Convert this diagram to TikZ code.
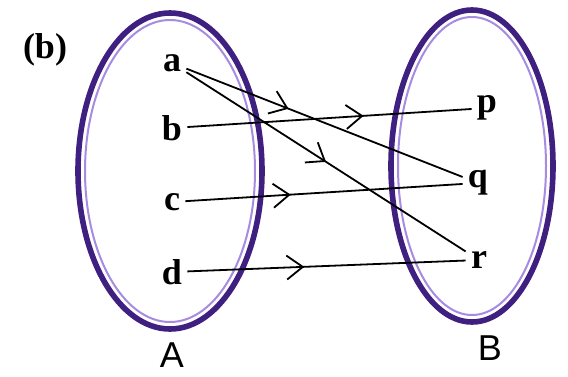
\documentclass[tikz,border=0pt]{standalone}
\usepackage{fontspec}
\setmainfont{Liberation Serif}
\newfontfamily\setfont{Liberation Sans}
\usetikzlibrary{arrows.meta,decorations.markings}
\definecolor{RingDark}{HTML}{3F1F80}
\definecolor{RingLight}{HTML}{A68BE0}

\begin{document}
\begin{tikzpicture}[x=0.5pt, y=-0.5pt, every node/.style={font=\fontsize{18}{20}\selectfont\bfseries, inner sep=3pt},
  elem/.style={inner sep=2.5pt},
  setname/.style={font=\fontsize{18}{20}\selectfont\setfont},
  midarrow/.style={postaction={decorate}, decoration={markings, mark=at position #1 with {\arrow{Straight Barb[length=8pt,width=12pt,line width=0.9pt]}}}}]
\useasboundingbox (0,0) rectangle (568,376);
% the two sets
\draw[RingDark, line width=2.8pt] (170,171) ellipse [x radius=92, y radius=158];
\draw[RingLight, line width=1pt] (170,171) ellipse [x radius=85, y radius=151];
\draw[RingDark, line width=2.8pt] (472,166) ellipse [x radius=81, y radius=156];
\draw[RingLight, line width=1pt] (472,166) ellipse [x radius=74, y radius=149];
\node at (45,50) (tag) {(b)};
\node[setname] at (172,355) (A) {A};
\node[setname] at (490,348) (B) {B};
% elements
\node[elem] at (172,63) (a) {a};
\node[elem] at (172,128) (b) {b};
\node[elem] at (172,202) (c) {c};
\node[elem] at (172,272) (d) {d};
\node[elem] at (487,108) (p) {p};
\node[elem] at (478,183) (q) {q};
\node[elem] at (479,260) (r) {r};
\foreach \x/\y/\t in {a/q/0.37,a/r/0.5,b/p/0.62,c/q/0.38,d/r/0.42}{\draw[line width=0.9pt, midarrow=\t] (\x) -- (\y);}
\end{tikzpicture}
\end{document}
